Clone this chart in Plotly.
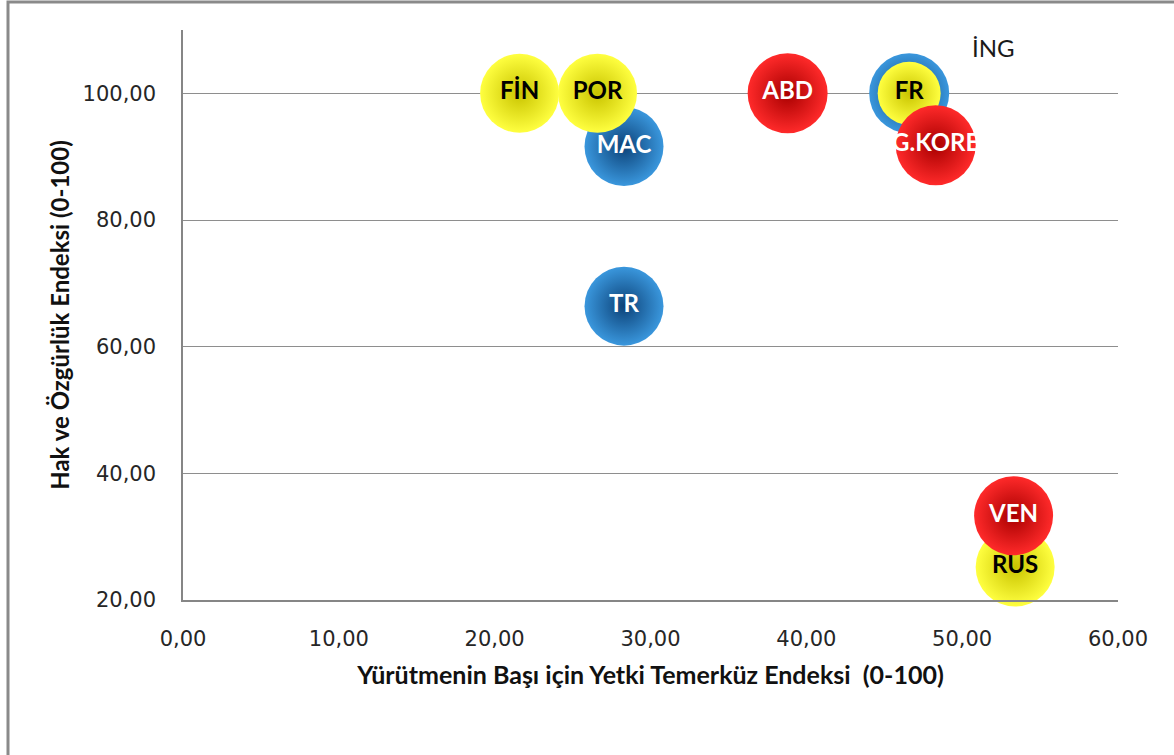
import plotly.graph_objects as go

# Data
blue_labels = ["TR", "MAC", ""]
blue_x = [28.3, 28.3, 46.6]
blue_y = [66.4, 91.6, 100.0]
blue_size = [79, 79, 80]

yellow_labels = ["FİN", "POR", "FR", "RUS"]
yellow_x = [21.6, 26.6, 46.6, 53.4]
yellow_y = [100.0, 100.0, 100.0, 25.2]
yellow_size = [79, 79, 63, 79]

red_labels = ["ABD", "G.KORE", "VEN"]
red_x = [38.8, 48.3, 53.3]
red_y = [100.0, 91.8, 33.3]
red_size = [80, 80, 79]

ing_label = "İNG"
ing_x = 52.0
ing_y = 107.3

x_title = "Yürütmenin Başı için Yetki Temerküz Endeksi  (0-100)"
y_title = "Hak ve Özgürlük Endeksi (0-100)"

fig = go.Figure()

def add_series(xs, ys, sizes, labels, center, edge, txtcolor):
    fig.add_trace(go.Scatter(
        x=xs, y=ys, mode="markers+text", text=labels,
        textposition="middle center",
        textfont=dict(family="Lato", size=24, color=txtcolor, weight="bold"),
        marker=dict(size=sizes, color=center, opacity=1,
                    line=dict(width=0),
                    gradient=dict(type="radial", color=edge)),
        showlegend=False, hoverinfo="skip", cliponaxis=False,
    ))

add_series(blue_x, blue_y, blue_size, blue_labels, "#3A97DD", "#0C4278", "white")
add_series(yellow_x, yellow_y, yellow_size, yellow_labels, "#FFFF40", "#C9C400", "black")
add_series(red_x, red_y, red_size, red_labels, "#FF2A2A", "#A80000", "white")

fig.add_annotation(x=ing_x, y=ing_y, text=ing_label, showarrow=False,
                   font=dict(family="Lato", size=24, color="#1a1a1a"))

# outer chart frame (left edge at px 8, top at px 2)
fig.add_shape(type="rect", xref="paper", yref="paper",
              x0=(8 - 183) / 935, x1=1.3, y0=-0.4, y1=(600 - 2) / 570,
              line=dict(color="#8a8a8a", width=3), layer="below")

fig.update_layout(
    width=1174, height=755,
    margin=dict(l=183, r=56, t=30, b=155),
    paper_bgcolor="white", plot_bgcolor="white",
    separators=",.",
    xaxis=dict(range=[0, 60], dtick=10, tickformat=".2f",
               showgrid=False, zeroline=False, showline=True,
               linecolor="#868686", linewidth=1.5, ticks="",
               ticklabelstandoff=19,
               tickfont=dict(family="DejaVu Sans", size=21, color="#262626"),
               title=dict(text=x_title, standoff=17,
                          font=dict(family="Lato", size=25, color="#111111", weight="bold"))),
    yaxis=dict(range=[20, 110], tickvals=[20, 40, 60, 80, 100], tickformat=".2f",
               showgrid=True, gridcolor="#8e8e8e", gridwidth=1,
               zeroline=False, showline=True, linecolor="#868686", linewidth=1.5,
               ticks="", ticklabelstandoff=21,
               tickfont=dict(family="DejaVu Sans", size=21, color="#262626"),
               title=dict(text=y_title, standoff=6,
                          font=dict(family="Lato", size=24, color="#111111", weight="bold"))),
)

fig.write_html("out.html", config={"displayModeBar": False},
               post_script="document.body.style.margin='0';")
